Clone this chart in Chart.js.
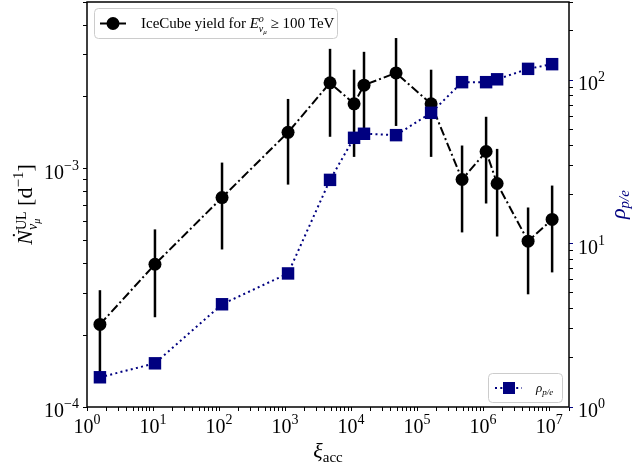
<!DOCTYPE html>
<html>
<head>
<meta charset="utf-8">
<script src="https://cdn.jsdelivr.net/npm/chart.js@4.4.0/dist/chart.umd.min.js"></script>
<style>
body{margin:0;background:#fff;}
</style>
</head>
<body>
<canvas id="chart" width="633" height="475"></canvas>
<script>
// xi_acc (same grid for both series)
let xiAcc = [1.57, 10.7, 111, 1110, 4800, 1.11e4, 1.57e4, 4.8e4, 1.63e5, 4.8e5, 1.11e6, 1.63e6, 4.8e6, 1.11e7];
// IceCube upper-limit yield [d^-1] and its error bar ends
let yieldUL = [2.22e-4, 3.97e-4, 7.56e-4, 1.42e-3, 2.29e-3, 1.87e-3, 2.24e-3, 2.52e-3, 1.87e-3, 9.0e-4, 1.18e-3, 8.66e-4, 4.96e-4, 6.12e-4];
let yieldLo = [1.34e-4, 2.38e-4, 4.58e-4, 8.57e-4, 1.36e-3, 1.12e-3, 1.35e-3, 1.51e-3, 1.12e-3, 5.4e-4, 7.14e-4, 5.19e-4, 2.97e-4, 3.67e-4];
let yieldHi = [3.09e-4, 5.56e-4, 1.06e-3, 1.96e-3, 3.18e-3, 2.6e-3, 3.09e-3, 3.53e-3, 2.6e-3, 1.25e-3, 1.65e-3, 1.21e-3, 6.87e-4, 8.49e-4];
// rho_p/e (right axis)
let rhoPE = [1.52, 1.85, 4.25, 6.56, 24.5, 44.3, 46.9, 46, 63, 97, 97, 101, 117, 125];

// decade exponents that get a "10^n" label
let xTickExp = [0, 1, 2, 3, 4, 5, 6, 7];
let yTickExp = [-4, -3];
let y2TickExp = [0, 1, 2];

const NAVY = "#000080";
const SERIF = '"Liberation Serif", "DejaVu Serif", serif';

function logTicks(min, max){
  let t = [];
  for(let e = Math.floor(Math.log10(min)); e <= Math.ceil(Math.log10(max)); e++){
    for(let m = 1; m < 10; m++){
      let v = m * Math.pow(10, e);
      if(v >= min * 0.999 && v <= max * 1.001) t.push({value: v});
    }
  }
  return t;
}
function isPow10(v){ let l = Math.log10(v); return Math.abs(l - Math.round(l)) < 1e-6; }

// lay out a row of text pieces (for sub/superscripts)
function layoutRuns(ctx, list){
  let cur = 0, maxX = 0, marks = {}, out = [];
  list.forEach(r => {
    ctx.font = r.f;
    let w = ctx.measureText(r.t).width;
    if(r.over){ out.push({r, sx: marks[r.on] + (r.dx || 0)}); return; }
    if(r.from === "max") cur = maxX; else if(r.from != null) cur = marks[r.from];
    if(r.mark) marks[r.mark] = cur;
    out.push({r, sx: cur});
    cur += w; maxX = Math.max(maxX, cur);
  });
  return {out, width: maxX};
}
function drawRuns(ctx, list, x, y, align, color){
  let L = layoutRuns(ctx, list);
  let x0 = align == "center" ? x - L.width / 2 : align == "right" ? x - L.width : x;
  ctx.textAlign = "left"; ctx.textBaseline = "alphabetic";
  L.out.forEach(o => {
    ctx.font = o.r.f;
    ctx.fillStyle = o.r.c || color || "#000";
    ctx.fillText(o.r.t, x0 + o.sx, y + (o.r.dy || 0));
  });
}
function powRuns(e){
  return [{t: "10", f: "20px " + SERIF}, {t: (e < 0 ? "\u2212" : "") + Math.abs(e), f: "14px " + SERIF, dy: -9}];
}

const decor = {
  id: "decor",
  beforeDatasetsDraw(chart){
    let {ctx, scales: {x, y}} = chart;
    ctx.save();
    ctx.strokeStyle = "#000"; ctx.lineWidth = 2.5;
    xiAcc.forEach((v, i) => {
      let px = x.getPixelForValue(v);
      ctx.beginPath();
      ctx.moveTo(px, y.getPixelForValue(yieldLo[i]));
      ctx.lineTo(px, y.getPixelForValue(yieldHi[i]));
      ctx.stroke();
    });
    ctx.restore();
  },
  afterDraw(chart){
    let {ctx, chartArea: a, scales: {x, y, y2}} = chart;
    ctx.save();
    // frame
    ctx.strokeStyle = "#000"; ctx.lineWidth = 1.5;
    ctx.strokeRect(a.left, a.top, a.right - a.left, a.bottom - a.top);

    // tick labels
    xTickExp.forEach(e => drawRuns(ctx, powRuns(e), x.getPixelForValue(Math.pow(10, e)), a.bottom + 26, "center"));
    yTickExp.forEach(e => drawRuns(ctx, powRuns(e), a.left - 8, y.getPixelForValue(Math.pow(10, e)) + 10, "right"));
    y2TickExp.forEach(e => drawRuns(ctx, powRuns(e), a.right + 9, y2.getPixelForValue(Math.pow(10, e)) + 10, "left"));

    // axis titles
    let midY = (a.top + a.bottom) / 2;
    drawRuns(ctx, [
      {t: "\u03BE", f: "italic 22px " + SERIF},
      {t: "acc", f: "15px " + SERIF, dy: 4}
    ], (a.left + a.right) / 2, 458, "center");

    ctx.save();
    ctx.translate(32, midY); ctx.rotate(-Math.PI / 2);
    drawRuns(ctx, [
      {t: "N", f: "italic 22px " + SERIF, mark: "n"},
      {t: "\u02D9", f: "22px " + SERIF, over: true, on: "n", dx: 6, dy: -5},
      {t: "UL", f: "14px " + SERIF, mark: "s", dy: -6},
      {t: "\u03BD", f: "italic 14px " + SERIF, from: "s", dy: 5},
      {t: "\u03BC", f: "italic 10px " + SERIF, dy: 8},
      {t: " [d", f: "22px " + SERIF, from: "max"},
      {t: "\u22121", f: "15px " + SERIF, dy: -9},
      {t: "]", f: "22px " + SERIF}
    ], 0, 0, "center");
    ctx.restore();

    ctx.save();
    ctx.translate(625, midY); ctx.rotate(-Math.PI / 2);
    drawRuns(ctx, [
      {t: "\u03C1", f: "italic 22px " + SERIF},
      {t: "p/e", f: "italic 15px " + SERIF, dy: 4}
    ], 0, 0, "center", NAVY);
    ctx.restore();

    // legend 1 (top left)
    ctx.fillStyle = "rgba(255,255,255,0.8)"; ctx.strokeStyle = "#cccccc"; ctx.lineWidth = 1;
    ctx.beginPath(); ctx.roundRect(94.5, 8.5, 243, 30, 4); ctx.fill(); ctx.stroke();
    ctx.strokeStyle = "#000"; ctx.lineWidth = 2; ctx.setLineDash([9, 3, 2, 3]);
    ctx.beginPath(); ctx.moveTo(100, 23.5); ctx.lineTo(126, 23.5); ctx.stroke();
    ctx.setLineDash([]);
    ctx.fillStyle = "#000"; ctx.beginPath(); ctx.arc(113, 23.5, 6.5, 0, Math.PI * 2); ctx.fill();
    drawRuns(ctx, [
      {t: "IceCube yield for ", f: "15px " + SERIF},
      {t: "E", f: "italic 15px " + SERIF},
      {t: "o", f: "italic 10px " + SERIF, mark: "s", dy: -6},
      {t: "\u03BD", f: "italic 10px " + SERIF, from: "s", dy: 4},
      {t: "\u03BC", f: "italic 7px " + SERIF, dy: 6},
      {t: " \u2265 100 TeV", f: "15px " + SERIF, from: "max"}
    ], 141, 28, "left");

    // legend 2 (bottom right)
    ctx.fillStyle = "rgba(255,255,255,0.8)"; ctx.strokeStyle = "#cccccc"; ctx.lineWidth = 1;
    ctx.beginPath(); ctx.roundRect(488.5, 373.5, 74, 29, 4); ctx.fill(); ctx.stroke();
    ctx.strokeStyle = NAVY; ctx.lineWidth = 2; ctx.setLineDash([2, 3.3]);
    ctx.beginPath(); ctx.moveTo(495, 388); ctx.lineTo(522, 388); ctx.stroke();
    ctx.setLineDash([]);
    ctx.fillStyle = NAVY; ctx.fillRect(503, 382, 12, 12);
    drawRuns(ctx, [
      {t: "\u03C1", f: "italic 13px " + SERIF},
      {t: "p/e", f: "italic 9px " + SERIF, dy: 3}
    ], 536, 392, "left");
    ctx.restore();
  }
};

function axisBase(min, max){
  return {
    type: "logarithmic", min, max,
    afterBuildTicks: s => { s.ticks = logTicks(min, max); },
    ticks: {display: false, autoSkip: false},
    grid: {drawOnChartArea: false, tickLength: 4, tickWidth: 1, color: "#000", tickColor: "#000"},
    border: {display: false}
  };
}

let xAxis = axisBase(1, 2e7);
xAxis.position = "bottom";
xAxis.afterFit = s => { s.height = 68; };
let yAxis = axisBase(1e-4, 5e-3);
yAxis.position = "left";
yAxis.afterFit = s => { s.width = 87; };
let y2Axis = axisBase(1, 300);
y2Axis.position = "right";
y2Axis.afterFit = s => { s.width = 64; };
y2Axis.grid.tickColor = c => (c.tick && isPow10(c.tick.value)) ? NAVY : "#000";

new Chart(document.getElementById("chart"), {
  type: "line",
  data: {
    datasets: [
      {
        label: "IceCube yield",
        data: xiAcc.map((v, i) => ({x: v, y: yieldUL[i]})),
        yAxisID: "y",
        borderColor: "#000", backgroundColor: "#000",
        borderWidth: 2, borderDash: [9, 3, 2, 3],
        pointRadius: 6.5, pointHoverRadius: 6.5, pointBorderWidth: 0,
        order: 1
      },
      {
        label: "rho_p/e",
        data: xiAcc.map((v, i) => ({x: v, y: rhoPE[i]})),
        yAxisID: "y2",
        borderColor: NAVY, backgroundColor: NAVY,
        borderWidth: 2, borderDash: [2, 3.3],
        pointStyle: "rect", pointRadius: 8.8, pointHoverRadius: 8.8, pointBorderWidth: 0,
        order: 0
      }
    ]
  },
  options: {
    responsive: false,
    animation: false,
    layout: {padding: {top: 2}, autoPadding: false},
    plugins: {legend: {display: false}, tooltip: {enabled: false}},
    scales: {x: xAxis, y: yAxis, y2: y2Axis}
  },
  plugins: [decor]
});
</script>
</body>
</html>
